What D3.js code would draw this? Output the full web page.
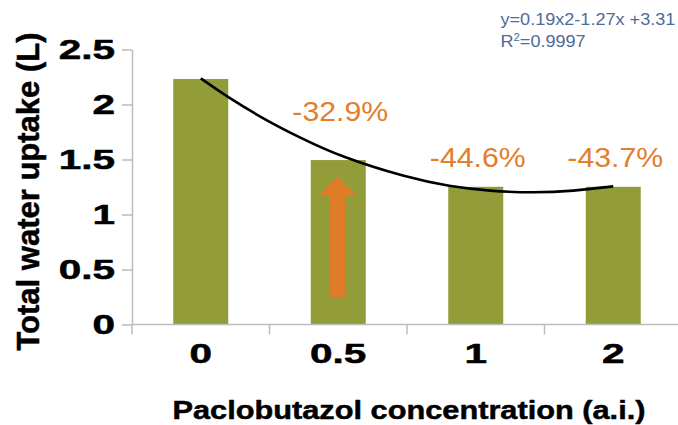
<!DOCTYPE html>
<html>
<head>
<meta charset="utf-8">
<script src="https://cdn.jsdelivr.net/npm/d3@7"></script>
<style>
  html, body { margin: 0; padding: 0; background: #fff; }
  svg { display: block; }
</style>
</head>
<body>
<div id="chart"></div>
<script>
/* water uptake vs paclobutazol dose - bars + quadratic trendline */
var categories = ["0", "0.5", "1", "2"];
var uptake = [2.232, 1.495, 1.252, 1.252];
var changeLabels = ["", "-32.9%", "-44.6%", "-43.7%"];
var yTicks = [0, 0.5, 1, 1.5, 2, 2.5];
// trendline (t = category index, v = litres)
var trendT = [0, 0.19, 0.48, 0.72, 1.01, 1.5, 1.81, 2.1, 2.42, 2.71, 3.0];
var trendV = [2.238, 2.071, 1.852, 1.700, 1.528, 1.335, 1.255, 1.212, 1.198, 1.212, 1.256];
var equation = "y=0.19x2-1.27x +3.31";
var rSquared = "0.9997";
// arrow inside the 0.5 bar, in litres
var arrowFrom = 0.25, arrowTo = 1.345;

var W = 678, H = 425;
var OLIVE = "#929D3A", ORANGE = "#E27E2C", ARROW = "#E07C28",
    AXIS = "#BDBDBD", BLUE = "#4E6B99";
var FONT = "'Liberation Sans', Arial, Helvetica, sans-serif";

var svg = d3.select("#chart").append("svg").attr("width", W).attr("height", H);

var x = d3.scaleBand().domain(categories).range([132, 682]).paddingInner(0.6).paddingOuter(0.3);
var y = d3.scaleLinear().domain([0, 2.5]).range([324.5, 49.5]);
var step = x.step(), bw = x.bandwidth();
function cx(c) { return x(c) + bw / 2; }

// stretch text horizontally around its anchor point
function stretch(sel, sx) {
  sel.each(function () {
    var t = d3.select(this), tx = +t.attr("x") || 0, ty = +t.attr("y") || 0;
    t.attr("x", 0).attr("y", 0).attr("transform", "translate(" + tx + "," + ty + ") scale(" + sx + ",1)");
  });
}
function heavy(sel, w) { sel.attr("stroke", "#000").attr("stroke-width", w).attr("stroke-linejoin", "round"); }

// bars
svg.append("g").selectAll("rect").data(categories).join("rect")
  .attr("x", function (d) { return x(d); })
  .attr("y", function (d, i) { return y(uptake[i]); })
  .attr("width", bw)
  .attr("height", function (d, i) { return y(0) - y(uptake[i]); })
  .attr("fill", OLIVE);

// y axis
var ya = svg.append("g").attr("transform", "translate(132,0)")
  .call(d3.axisLeft(y).tickValues(yTicks).tickSize(10).tickSizeOuter(0).tickFormat(d3.format("")));
ya.select(".domain").attr("stroke", AXIS).attr("stroke-width", 1.5);
ya.selectAll(".tick line").attr("stroke", AXIS).attr("stroke-width", 1.5);
ya.selectAll(".tick text").attr("x", -17).attr("fill", "#000")
  .attr("font-family", FONT).attr("font-weight", "bold").attr("font-size", 27);
heavy(ya.selectAll(".tick text"), 0.5);
stretch(ya.selectAll(".tick text"), 1.5);

// x axis: baseline, boundary ticks, centred labels
var xa = svg.append("g").attr("transform", "translate(0," + y(0) + ")");
xa.append("line").attr("x1", 132).attr("x2", W).attr("stroke", AXIS).attr("stroke-width", 1.5);
xa.selectAll("line.bound").data(d3.range(categories.length + 1)).join("line").attr("class", "bound")
  .attr("x1", function (i) { return 132 + i * step; }).attr("x2", function (i) { return 132 + i * step; })
  .attr("y1", 0).attr("y2", 10).attr("stroke", AXIS).attr("stroke-width", 1.5);
xa.selectAll("text").data(categories).join("text")
  .attr("x", function (d) { return cx(d); }).attr("y", 38.8)
  .attr("text-anchor", "middle").attr("font-family", FONT).attr("font-weight", "bold")
  .attr("font-size", 27).text(function (d) { return d; });
heavy(xa.selectAll("text"), 0.5);
stretch(xa.selectAll("text"), 1.5);

// trendline
var tx = d3.scaleLinear().domain([0, categories.length - 1]).range([cx(categories[0]), cx(categories[categories.length - 1])]);
svg.append("path")
  .datum(trendT.map(function (t, i) { return [t, trendV[i]]; }))
  .attr("fill", "none").attr("stroke", "#000").attr("stroke-width", 2.6)
  .attr("d", d3.line().x(function (d) { return tx(d[0]); }).y(function (d) { return y(d[1]); }).curve(d3.curveBasis));

// arrow in the 0.5 bar
var ax = cx("0.5") - 0.75, ay0 = y(arrowFrom), ay1 = y(arrowTo), head = 19, sw = 7.5, hw = 18.5;
svg.append("path").attr("fill", ARROW)
  .attr("d", "M" + (ax - sw) + "," + ay0 + "V" + (ay1 + head) + "H" + (ax - hw) + "L" + ax + "," + ay1 +
    "L" + (ax + hw) + "," + (ay1 + head) + "H" + (ax + sw) + "V" + ay0 + "Z");

// percentage change labels
var lift = [0, 39, 20, 20];
var pl = svg.append("g").selectAll("text").data(categories.filter(function (d, i) { return changeLabels[i]; }))
  .join("text")
  .attr("x", function (d) { return cx(d) + 2; })
  .attr("y", function (d) { var i = categories.indexOf(d); return y(uptake[i]) - lift[i]; })
  .attr("text-anchor", "middle").attr("fill", ORANGE).attr("font-family", FONT).attr("font-size", 27.5)
  .text(function (d) { return changeLabels[categories.indexOf(d)]; });
stretch(pl, 1.1);

// trendline equation
var eq = svg.append("text").attr("x", 500.5).attr("y", 25).attr("fill", BLUE)
  .attr("font-family", FONT).attr("font-size", 16).text(equation);
var r2 = svg.append("text").attr("x", 500.5).attr("y", 46.7).attr("fill", BLUE)
  .attr("font-family", FONT).attr("font-size", 16);
r2.append("tspan").text("R");
r2.append("tspan").attr("font-size", 10).attr("dy", -6).text("2");
r2.append("tspan").attr("dy", 6).text("=" + rSquared);
stretch(eq, 1.13);
stretch(r2, 1.13);

// axis titles
var yt = svg.append("text").attr("transform", "translate(39,191.5) rotate(-90)")
  .attr("text-anchor", "middle").attr("font-family", FONT).attr("font-weight", "bold")
  .attr("font-size", 31).text("Total water uptake (L)");
heavy(yt, 0.5);
var xt = svg.append("text").attr("x", 409).attr("y", 419).attr("text-anchor", "middle")
  .attr("font-family", FONT).attr("font-weight", "bold").attr("font-size", 26.5)
  .text("Paclobutazol concentration (a.i.)");
heavy(xt, 0.5);
stretch(xt, 1.16);
</script>
</body>
</html>
